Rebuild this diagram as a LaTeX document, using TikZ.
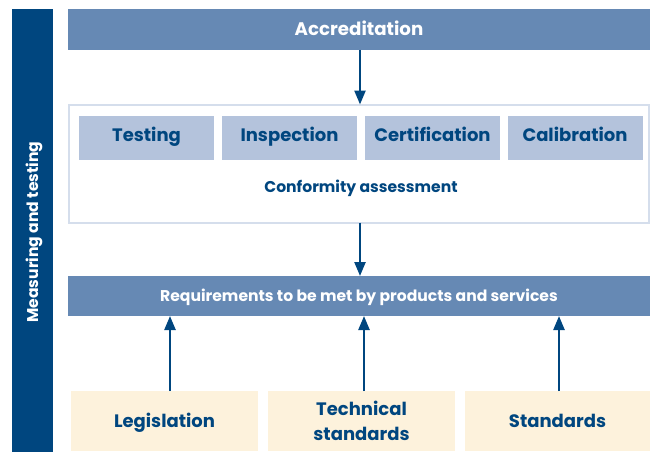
\documentclass[tikz,border=0pt]{standalone}
\usepackage{fontspec}
\setmainfont{Poppins}
\usetikzlibrary{arrows.meta}
\definecolor{dkblue}{HTML}{00467F}
\definecolor{midblue}{HTML}{6689B4}
\definecolor{ltblue}{HTML}{B4C3DC}
\definecolor{cream}{HTML}{FDF2DC}
\definecolor{frame}{HTML}{D5DEEC}
\begin{document}
\begin{tikzpicture}[x=1pt,y=-1pt,
  box/.style={inner sep=0pt, outer sep=0pt, align=center, font=\bfseries},
  bar/.style={box, fill=midblue, text=white, minimum width=582pt, minimum height=41pt},
  item/.style={box, fill=ltblue, text=dkblue, minimum width=135pt, minimum height=44pt, text height=12.6pt, text depth=5pt, font=\bfseries\fontsize{18}{21}\selectfont},
  src/.style={box, fill=cream, text=dkblue, minimum width=187pt, minimum height=60pt, font=\bfseries\fontsize{18}{25}\selectfont},
  oneline/.style={text height=12.6pt, text depth=0pt},
  arr/.style={draw=dkblue, line width=2.4pt, -{Triangle[width=11pt,length=14pt]}}
]
\useasboundingbox (0,0) rectangle (650,452);
\node[box, fill=dkblue, minimum width=41pt, minimum height=443pt] (side) at (32.5,230.5) {};
\node[rotate=90, text=white, font=\bfseries\fontsize{15.6}{18}\selectfont] (sidetext) at (34,232) {Measuring and testing};
\node[bar, text height=12.7pt, text depth=0pt, font=\bfseries\fontsize{18.2}{21}\selectfont] (accr) at (359,29.5) {Accreditation};
\node[box, draw=frame, line width=2pt, fill=white, minimum width=580pt, minimum height=118pt] (conf) at (359,163.5) {};
\node[item] (testing) at (146.5,138) {Testing};
\node[item] (inspection) at (289.5,138) {Inspection};
\node[item] (certification) at (432.5,138) {Certification};
\node[item] (calibration) at (575,138) {Calibration};
\node[text=dkblue, font=\bfseries\fontsize{15.6}{18}\selectfont] (conftext) at (361,188) {Conformity assessment};
\node[bar, minimum height=40pt, text height=11pt, text depth=0pt, font=\bfseries\fontsize{15.6}{18}\selectfont] (req) at (359,296) {Requirements to be met by products and services};
\node[src, oneline] (leg) at (164.5,421) {Legislation};
\node[src] (tech) at (361.5,421) {Technical\\standards};
\node[src, oneline, minimum width=185pt] (std) at (557.5,421) {Standards};
\draw[arr] (accr.south -| 360,0) -- (conf.north -| 360,0);
\draw[arr] (conf.south -| 360,0) -- (req.north -| 360,0);
\draw[arr] (leg.north -| 170,0) -- (req.south -| 170,0);
\draw[arr] (tech.north -| 364,0) -- (req.south -| 364,0);
\draw[arr] (std.north -| 559,0) -- (req.south -| 559,0);
\end{tikzpicture}
\end{document}
